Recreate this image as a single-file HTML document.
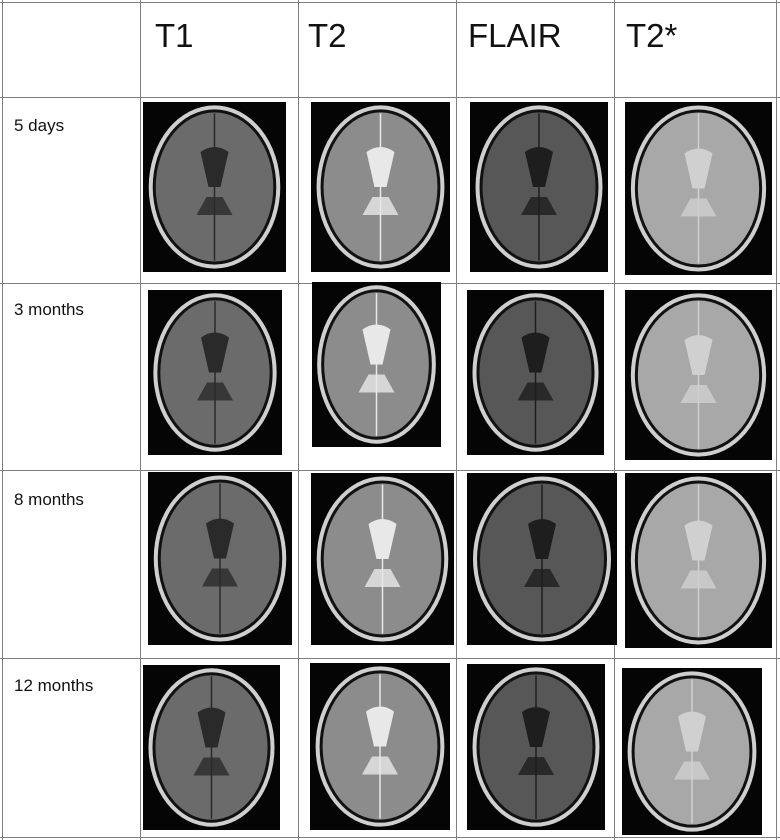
<!DOCTYPE html>
<html><head><meta charset="utf-8"><style>
body{margin:0;background:#fff;}
#wrap{position:relative;width:780px;height:840px;overflow:hidden;background:#fff;font-family:"Liberation Sans",sans-serif;}
.h{position:absolute;top:17px;font-size:33px;color:#111;}
.r{position:absolute;left:14px;font-size:17px;color:#111;}
.vl{position:absolute;top:0;width:1px;height:840px;background:#808080;}
.hl{position:absolute;left:0;height:1px;width:780px;background:#808080;}
svg{position:absolute;left:0;top:0;}
</style></head><body>
<div id="wrap">
<div class="vl" style="left:2px"></div>
<div class="vl" style="left:140px"></div>
<div class="vl" style="left:298px"></div>
<div class="vl" style="left:456px"></div>
<div class="vl" style="left:614px"></div>
<div class="vl" style="left:776px"></div>
<div class="hl" style="top:2px"></div>
<div class="hl" style="top:97px"></div>
<div class="hl" style="top:283px"></div>
<div class="hl" style="top:470px"></div>
<div class="hl" style="top:658px"></div>
<div class="hl" style="top:837px"></div>
<div class="h" style="left:155px">T1</div>
<div class="h" style="left:308px">T2</div>
<div class="h" style="left:468px">FLAIR</div>
<div class="h" style="left:626px">T2*</div>
<div class="r" style="top:116px">5 days</div>
<div class="r" style="top:300px">3 months</div>
<div class="r" style="top:490px">8 months</div>
<div class="r" style="top:676px">12 months</div>
<svg id="s" width="780" height="840"></svg>
</div>
<script>
const boxes=[
[143,102,143,170,0],[311,102,139,170,1],[470,102,138,170,2],[625,102,147,173,3],
[148,290,134,165,0],[312,282,129,165,1],[467,290,137,165,2],[625,290,147,170,3],
[148,472,144,173,0],[311,473,143,172,1],[467,473,150,172,2],[625,473,147,175,3],
[143,665,137,165,0],[310,663,140,167,1],[467,664,138,166,2],[622,668,140,167,3]];
const fill=['#6b6b6b','#8c8c8c','#575757','#a8a8a8'];
const vent=['#2a2a2a','#e8e8e8','#1e1e1e','#d0d0d0'];
const ns='http://www.w3.org/2000/svg';
const s=document.getElementById('s');
function el(t,a,p){const e=document.createElementNS(ns,t);for(const k in a)e.setAttribute(k,a[k]);(p||s).appendChild(e);return e;}
boxes.forEach(b=>{
 const [x,y,w,h,m]=b;
 const g=el('g',{});
 
 
 el('rect',{x:x,y:y,width:w,height:h,fill:'#050505'},g);
 const cx=x+w/2,cy=y+h/2,rx=w*0.46,ry=h*0.48;
 el('ellipse',{cx:cx,cy:cy,rx:rx,ry:ry,fill:'#cfcfcf'},g);
 el('ellipse',{cx:cx,cy:cy,rx:rx-4,ry:ry-4,fill:'#111'},g);
 el('ellipse',{cx:cx,cy:cy,rx:rx-7,ry:ry-7,fill:fill[m]},g);
 el('path',{d:`M${cx-14},${cy-35} Q${cx},${cy-45} ${cx+14},${cy-35} L${cx+6},${cy} L${cx-6},${cy} Z`,fill:vent[m]},g);
 el('path',{d:`M${cx-18},${cy+28} L${cx-8},${cy+10} L${cx+8},${cy+10} L${cx+18},${cy+28} Z`,fill:vent[m],opacity:0.8},g);
 el('line',{x1:cx,y1:cy-ry+8,x2:cx,y2:cy+ry-8,stroke:vent[m],'stroke-width':1.5},g);
});
</script>
</body></html>
